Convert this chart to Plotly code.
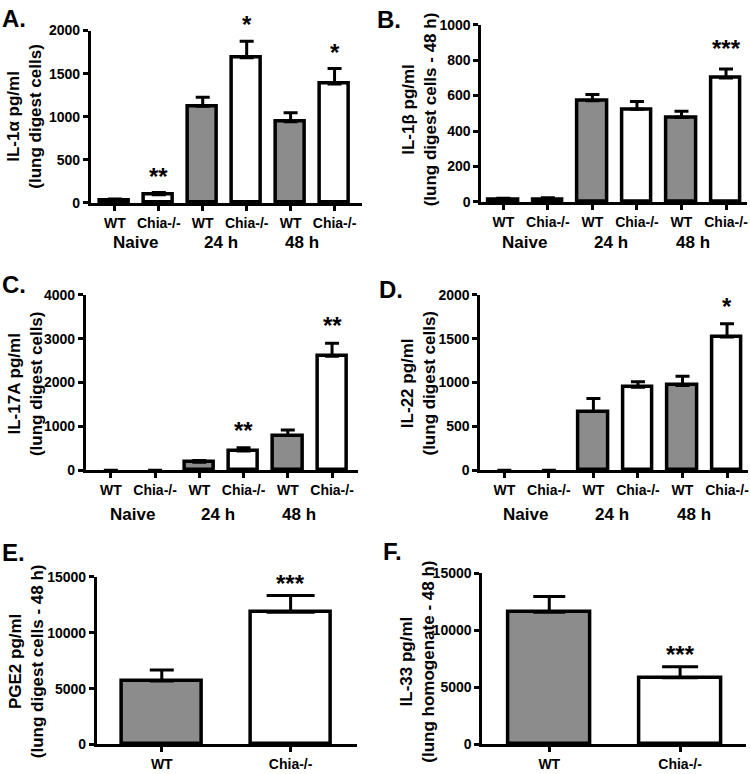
import plotly.graph_objects as go

W, H = 750, 774
FONT = "Liberation Sans, Arial, Helvetica, sans-serif"
GRAY = "#8c8c8c"

# ---------------- data ----------------
categories = ["WT", "Chia-/-", "WT", "Chia-/-", "WT", "Chia-/-"]
groups = ["Naive", "24 h", "48 h"]
categories2 = ["WT", "Chia-/-"]

il1a = [30, 95, 1120, 1685, 940, 1380]
il1a_err = [15, 25, 105, 190, 106, 178]
il1a_sig = ["", "**", "", "*", "", "*"]

il1b = [15, 15, 571, 523, 477, 699]
il1b_err = [5, 8, 35, 43, 35, 51]
il1b_sig = ["", "", "", "", "", "***"]

il17a = [0, 0, 180, 440, 790, 2600]
il17a_err = [0, 0, 45, 75, 130, 300]
il17a_sig = ["", "", "", "**", "", "**"]

il22 = [0, 0, 669, 946, 968, 1521]
il22_err = [0, 0, 150, 63, 105, 150]
il22_sig = ["", "", "", "", "", "*"]

pge2 = [5690, 11850]
pge2_err = [990, 1490]
pge2_sig = ["", "***"]

il33 = [11560, 5840]
il33_err = [1395, 965]
il33_sig = ["", "***"]

# ---------------- layout helpers (pixels -> paper) ----------------
def px(x):
    return x / W

def py(y):
    return 1 - y / H

panels = [
    dict(cats=categories, vals=il1a, err=il1a_err, sig=il1a_sig, ymax=2000, dtick=500,
         L=91, R=362, c0=115, s=44, top=23, bot=199, bw=0.66, cap=[7, 7], sshift=1,
         title="IL-1α pg/ml<br>(lung digest cells)", tx=25, ty=110,
         letter="A.", lx=0, ly=11, gy=239),
    dict(cats=categories, vals=il1b, err=il1b_err, sig=il1b_sig, ymax=1000, dtick=200,
         L=482, R=748, c0=504, s=44.6, top=17, bot=198, bw=0.66, cap=[7, 7], sshift=5,
         title="IL-1β pg/ml<br>(lung digest cells - 48 h)", tx=420, ty=103,
         letter="B.", lx=375, ly=12, gy=239),
    dict(cats=categories, vals=il17a, err=il17a_err, sig=il17a_sig, ymax=4000, dtick=1000,
         L=86, R=358, c0=111, s=44.3, top=293, bot=472, bw=0.66, cap=[7, 7], sshift=2,
         title="IL-17A pg/ml<br>(lung digest cells)", tx=25, ty=383,
         letter="C.", lx=0, ly=282, gy=517),
    dict(cats=categories, vals=il22, err=il22_err, sig=il22_sig, ymax=2000, dtick=500,
         L=481, R=749, c0=505, s=44.6, top=293, bot=472, bw=0.66, cap=[7, 7], sshift=2,
         title="IL-22 pg/ml<br>(lung digest cells)", tx=419, ty=383,
         letter="D.", lx=378, ly=287, gy=517),
    dict(cats=categories2, vals=pge2, err=pge2_err, sig=pge2_sig, ymax=15000, dtick=5000,
         L=97, R=357, c0=162, s=129, top=581, bot=752, bw=0.62, cap=[12, 24], sshift=-3,
         title="PGE2 pg/ml<br>(lung digest cells - 48 h)", tx=26, ty=667,
         letter="E.", lx=0, ly=556, gy=None),
    dict(cats=categories2, vals=il33, err=il33_err, sig=il33_sig, ymax=15000, dtick=5000,
         L=483, R=747, c0=550, s=131, top=577, bot=752, bw=0.63, cap=[16, 18], sshift=-3,
         title="IL-33 pg/ml<br>(lung homogenate - 48 h)", tx=418, ty=667,
         letter="F.", lx=382, ly=555, gy=None),
]

group_pos = [0.48, 2.42, 4.25]

fig = go.Figure()
layout = dict(
    width=W, height=H, autosize=False,
    margin=dict(l=0, r=0, t=0, b=0),
    paper_bgcolor="white", plot_bgcolor="white",
    showlegend=False,
    font=dict(family=FONT, color="black"),
    bargap=0,
)
annotations = []

for i, p in enumerate(panels, start=1):
    xa = "x" if i == 1 else f"x{i}"
    ya = "y" if i == 1 else f"y{i}"
    xkey = "xaxis" if i == 1 else f"xaxis{i}"
    ykey = "yaxis" if i == 1 else f"yaxis{i}"
    n = len(p["vals"])
    xs = list(range(n))

    for k, color in enumerate(["gray", "white"]):
        idx = [j for j in xs if j % 2 == k]
        if not idx:
            continue
        vals = [p["vals"][j] for j in idx]
        fig.add_trace(go.Bar(
            x=idx, y=vals,
            width=p["bw"],
            marker=dict(color=GRAY if color == "gray" else "white",
                        line=dict(color="black",
                                  width=[3.5 if v > 0 else 0 for v in vals])),
            error_y=dict(type="data", array=[p["err"][j] for j in idx],
                         arrayminus=[0] * len(idx), symmetric=False,
                         color="black", thickness=3, width=p["cap"][k]),
            xaxis=xa, yaxis=ya, hoverinfo="skip",
        ))

    rng = [(p["L"] - p["c0"]) / p["s"], (p["R"] - p["c0"]) / p["s"]]
    layout[xkey] = dict(
        domain=[px(p["L"]), px(p["R"])], range=rng, anchor=ya,
        tickvals=xs, ticktext=p["cats"],
        ticks="outside", ticklen=5, tickwidth=3, tickcolor="black",
        showline=True, linewidth=3, linecolor="black",
        showgrid=False, zeroline=False, fixedrange=True,
        tickfont=dict(family=FONT, size=14, color="black", weight="bold"),
    )
    layout[ykey] = dict(
        domain=[py(p["bot"]), py(p["top"])], range=[0, p["ymax"]], anchor=xa,
        tickvals=list(range(0, p["ymax"] + 1, p["dtick"])), tickformat="d",
        ticks="outside", ticklen=5, tickwidth=3, tickcolor="black",
        showline=True, linewidth=3, linecolor="black",
        showgrid=False, zeroline=False, fixedrange=True,
        tickfont=dict(family=FONT, size=14, color="black", weight="bold"),
    )

    # significance stars
    for j in xs:
        if p["sig"][j]:
            annotations.append(dict(
                x=j, y=p["vals"][j] + p["err"][j], xref=xa, yref=ya,
                text=p["sig"][j], showarrow=False, yanchor="bottom", yshift=p["sshift"],
                font=dict(family=FONT, size=24, color="black", weight="bold"),
            ))

    # group labels
    if p["gy"] is not None:
        for g, gx in zip(groups, group_pos):
            annotations.append(dict(
                x=gx, y=py(p["gy"]), xref=xa, yref="paper",
                text=g, showarrow=False, yanchor="middle", xanchor="center",
                font=dict(family=FONT, size=17, color="black", weight="bold"),
            ))

    # y-axis title
    annotations.append(dict(
        x=px(p["tx"]), y=py(p["ty"]), xref="paper", yref="paper",
        text=p["title"], textangle=-90, showarrow=False,
        xanchor="center", yanchor="middle",
        font=dict(family=FONT, size=17, color="black", weight="bold"),
    ))

    # panel letter
    annotations.append(dict(
        x=px(p["lx"]), y=py(p["ly"]), xref="paper", yref="paper",
        text=p["letter"], showarrow=False, xanchor="left", yanchor="middle",
        font=dict(family=FONT, size=24, color="black", weight="bold"),
    ))

layout["annotations"] = annotations
fig.update_layout(**layout)
fig.write_html(
    "out.html",
    config={"displayModeBar": False},
    post_script="document.body.style.margin='0';document.body.style.overflow='hidden';",
)
